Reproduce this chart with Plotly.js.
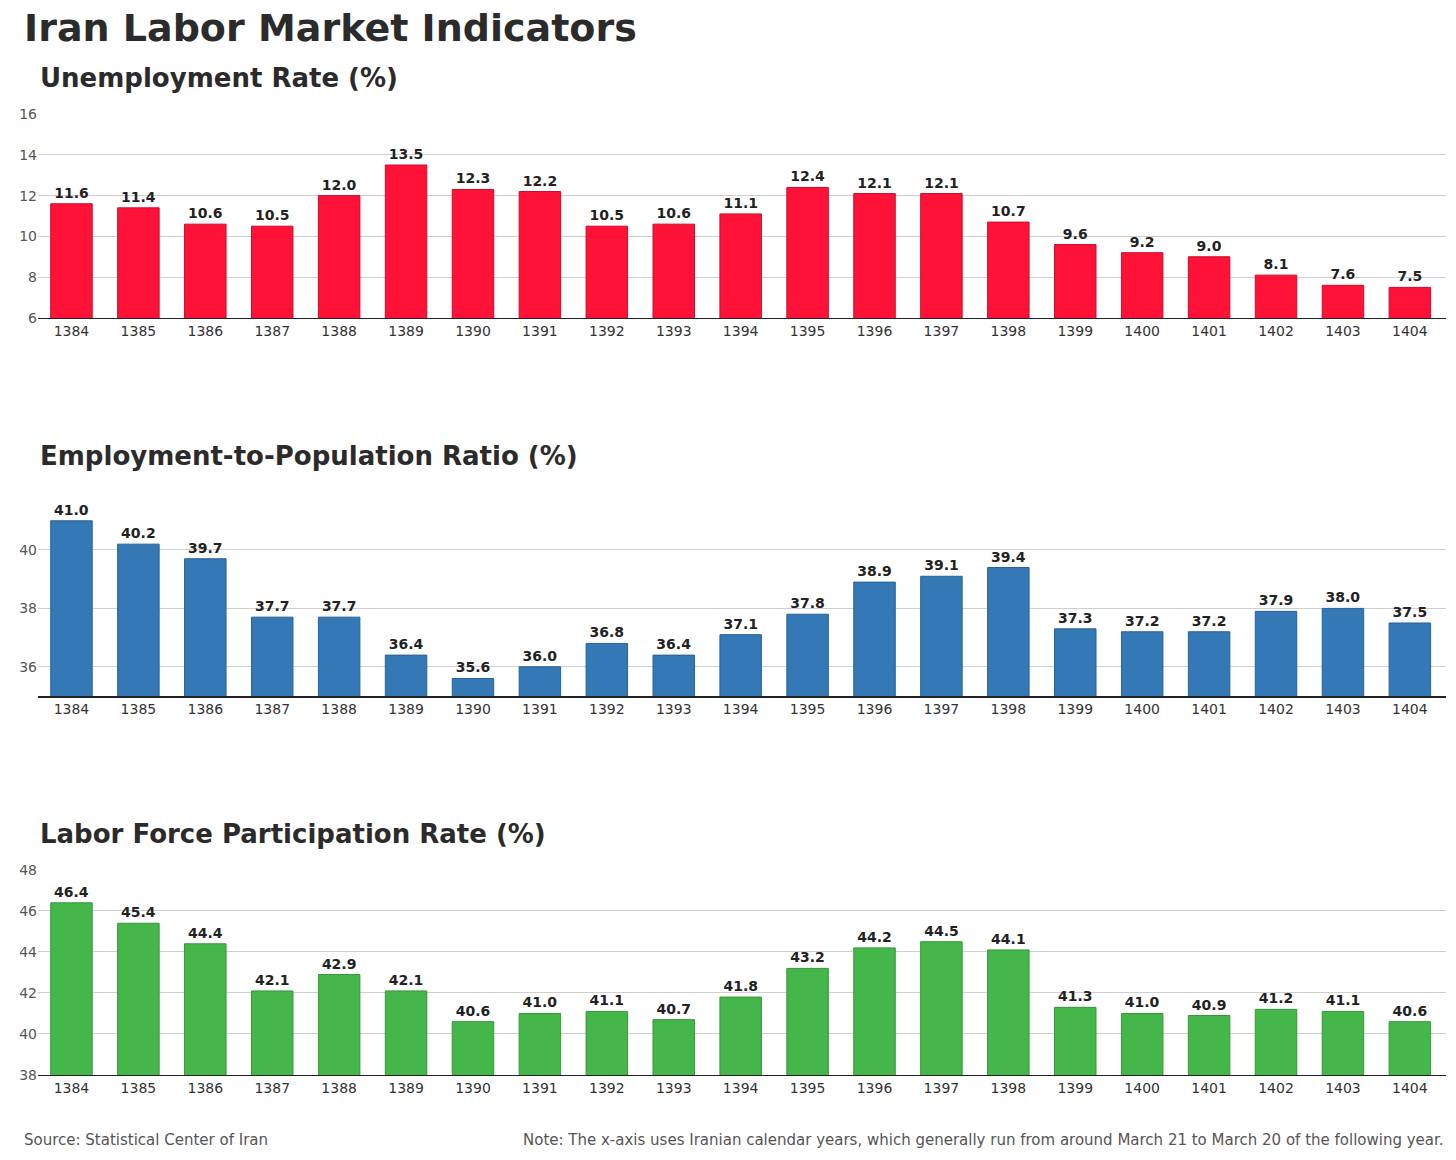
<!DOCTYPE html>
<html><head><meta charset="utf-8">
<script src="https://cdn.plot.ly/plotly-3.0.1.min.js"></script>
<style>body{margin:0;background:#fff}</style></head>
<body><div id="c" style="width:1456px;height:1160px"></div>
<script>
const years = ["1384","1385","1386","1387","1388","1389","1390","1391","1392","1393","1394","1395","1396","1397","1398","1399","1400","1401","1402","1403","1404"];
const unemployment = [11.6,11.4,10.6,10.5,12.0,13.5,12.3,12.2,10.5,10.6,11.1,12.4,12.1,12.1,10.7,9.6,9.2,9.0,8.1,7.6,7.5];
const employment = [41.0,40.2,39.7,37.7,37.7,36.4,35.6,36.0,36.8,36.4,37.1,37.8,38.9,39.1,39.4,37.3,37.2,37.2,37.9,38.0,37.5];
const participation = [46.4,45.4,44.4,42.1,42.9,42.1,40.6,41.0,41.1,40.7,41.8,43.2,44.2,44.5,44.1,41.3,41.0,40.9,41.2,41.1,40.6];

const F = "DejaVu Sans, sans-serif";
function bar(y, color, line, xa, ya){
  return {type:"bar", x:years, y:y, xaxis:xa, yaxis:ya, width:0.62,
    marker:{color:color, line:{color:line, width:1}},
    text:y.map(v=>v.toFixed(1)), textposition:"outside", cliponaxis:false,
    textfont:{family:F, size:14, color:"#222", weight:"bold"}, hoverinfo:"skip"};
}
const data = [
  bar(unemployment, "#FF1237", "#c80e2b", "x", "y"),
  bar(employment, "#3478B6", "#2a6296", "x2", "y2"),
  bar(participation, "#45B649", "#36963a", "x3", "y3")
];
function xax(anchor){return {anchor:anchor, type:"category", range:[-0.5,20.54], showline:true, linecolor:"#222", linewidth:1.5, ticks:"", showgrid:false, tickfont:{family:F,size:14,color:"#333"}, fixedrange:true};}
function yax(anchor, dom, rng, dt){return {anchor:anchor, domain:dom, range:rng, dtick:dt, showgrid:true, gridcolor:"#cfcfcf", zeroline:false, showline:false, ticks:"", tickfont:{family:F,size:14,color:"#555"}, fixedrange:true};}
const layout = {
  width:1456, height:1160, margin:{l:38,r:10,t:0,b:0}, showlegend:false,
  paper_bgcolor:"#fff", plot_bgcolor:"#fff", font:{family:F},
  xaxis:xax("y"), xaxis2:xax("y2"), xaxis3:xax("y3"),
  yaxis:yax("x",[0.7259,0.9017],[6,16],2),
  yaxis2:yax("x2",[0.4,0.5586],[35,41.3],2),
  yaxis3:yax("x3",[0.0733,0.25],[38,48],2),
  annotations:[
    {text:"<b>Iran Labor Market Indicators</b>", xref:"paper", yref:"paper", x:-0.0115, y:1-28/1160, xanchor:"left", yanchor:"middle", showarrow:false, font:{family:F,size:38,color:"#2b2b2b"}},
    {text:"<b>Unemployment Rate (%)</b>", xref:"paper", yref:"paper", x:0, y:1-78/1160, xanchor:"left", yanchor:"middle", showarrow:false, font:{family:F,size:26,color:"#2b2b2b"}},
    {text:"<b>Employment-to-Population Ratio (%)</b>", xref:"paper", yref:"paper", x:0, y:1-456/1160, xanchor:"left", yanchor:"middle", showarrow:false, font:{family:F,size:26,color:"#2b2b2b"}},
    {text:"<b>Labor Force Participation Rate (%)</b>", xref:"paper", yref:"paper", x:0, y:1-834/1160, xanchor:"left", yanchor:"middle", showarrow:false, font:{family:F,size:26,color:"#2b2b2b"}},
    {text:"Source: Statistical Center of Iran", xref:"paper", yref:"paper", x:-0.0115, y:1-1140/1160, xanchor:"left", yanchor:"middle", showarrow:false, font:{family:F,size:15,color:"#555"}},
    {text:"Note: The x-axis uses Iranian calendar years, which generally run from around March 21 to March 20 of the following year.", xref:"paper", yref:"paper", x:1, y:1-1140/1160, xanchor:"right", yanchor:"middle", showarrow:false, font:{family:F,size:15,color:"#555"}}
  ]
};
Plotly.newPlot("c", data, layout, {displayModeBar:false, staticPlot:true});
</script></body></html>
